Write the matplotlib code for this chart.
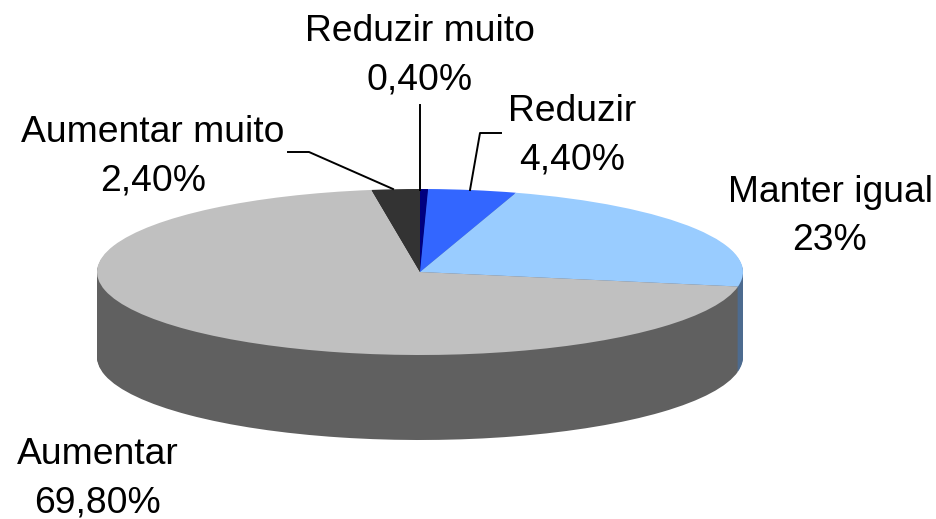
import matplotlib
matplotlib.use("Agg")
import matplotlib.pyplot as plt

W, H = 936, 519
categories = ["Reduzir muito", "Reduzir", "Manter igual", "Aumentar", "Aumentar muito"]
value_labels = ["0,40%", "4,40%", "23%", "69,80%", "2,40%"]
values = [0.4, 4.4, 23.0, 69.8, 2.4]
top_colors = ["#000080", "#3366FF", "#99CCFF", "#C0C0C0", "#333333"]
side_colors = ["#000050", "#1F3D99", "#4D6B8F", "#606060", "#1E1E1E"]

CX, CY, RX, RY, DEPTH = 420, 272, 323, 83, 85

plt.rcParams["font.family"] = ["Liberation Sans", "DejaVu Sans"]
fig = plt.figure(figsize=(W / 100, H / 100), dpi=100, facecolor="white")
ax = fig.add_axes([0, 0, 1, 1])


def pie_at(offset_px, colors):
    ax.pie(values, colors=colors, startangle=90, counterclock=False,
           center=(0, -offset_px / RY), radius=1,
           wedgeprops={"linewidth": 0}, frame=False)


for off in range(DEPTH, 0, -1):
    pie_at(off, side_colors)
pie_at(0, top_colors)

ax.set_aspect("auto")
ax.set_xlim(-CX / RX, (W - CX) / RX)
ax.set_ylim(-(H - CY) / RY, CY / RY)
ax.axis("off")

FS = 26.8
label_pos = {0: (420, 56), 1: (572, 136), 2: (830, 216.5), 3: (98, 479), 4: (153, 157)}
for i, (name, val) in enumerate(zip(categories, value_labels)):
    x, y = label_pos[i]
    fig.text(x / W, 1 - y / H, f"{name}\n{val}", ha="center", va="center",
             fontsize=FS, linespacing=1.486, color="black")

leaders = [[(420, 105), (420, 190)], [(501, 133), (480, 133), (470, 190)],
           [(288, 152), (309, 152), (393, 189)]]
for pts in leaders:
    fig.add_artist(plt.Line2D([p[0] / W for p in pts], [1 - p[1] / H for p in pts],
                              color="black", lw=1.4))

fig.savefig("out.png", dpi=100)
